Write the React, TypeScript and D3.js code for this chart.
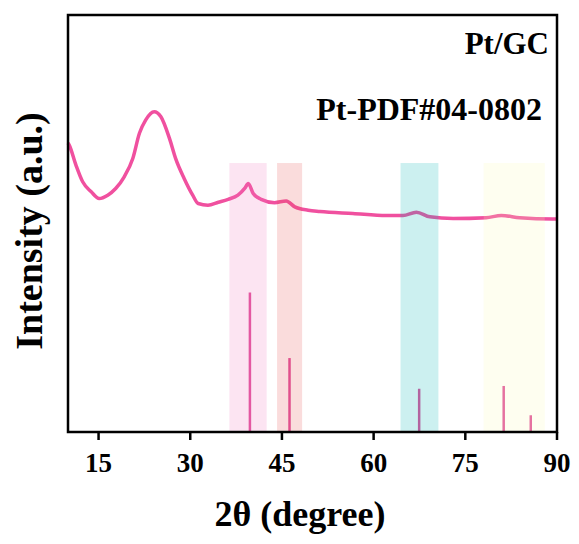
import React from "react";
import * as d3 from "d3";

const curveAngles = [10.0, 10.2, 11.3, 12.4, 13.8, 15.1, 16.5, 17.8, 19.2, 20.6, 21.7, 22.7, 24.1, 25.2, 26.6, 27.6, 29.0, 30.4, 31.3, 32.9, 34.6, 36.2, 37.8, 38.9, 39.5, 40.3, 41.6, 43.8, 45.7, 47.1, 49.3, 51.2, 56.6, 62.1, 64.8, 67.0, 69.2, 73.0, 78.4, 80.9, 83.9, 89.3, 90.0];
const curveIntensity = [693, 688, 640, 600, 576, 560, 568, 584, 612, 656, 717, 748, 768, 756, 704, 656, 608, 568, 548, 544, 551, 558, 568, 584, 596, 572, 558, 550, 554, 540, 532, 529, 524, 519, 519, 527, 516, 512, 514, 519, 514, 511, 511];

const pdfAngles = [39.76, 46.24, 67.45, 81.28, 85.71];
const pdfIntensity = [100, 53, 31, 33, 12];

const bandStart = [36.4, 44.2, 64.4, 78.0];
const bandEnd = [42.5, 48.3, 70.6, 88.0];
const bandColors = ["#f078be", "#e65050", "#00b4b4", "#fafab4"];
const bandTop = 645;

const xTicks = [15, 30, 45, 60, 75, 90];
const sampleLabel = "Pt/GC";
const pdfLabel = "Pt-PDF#04-0802";
const xTitle = "2θ (degree)";
const yTitle = "Intensity (a.u.)";

const W = 579, H = 544;
const L = 68, R = 557, T = 15, B = 432;
const font = "'Liberation Serif', 'Times New Roman', serif";

export default function App() {
  React.useEffect(() => {
    document.body.style.margin = "0";
  }, []);
  const x = d3.scaleLinear().domain([10, 90]).range([L, R]);
  const y = d3.scaleLinear().domain([0, 1000]).range([B, T]);
  const yRef = d3.scaleLinear().domain([0, 100]).range([B, 292.5]);
  const pts = curveAngles.map((a, i) => [a, curveIntensity[i]] as [number, number]);
  const line = d3.line<[number, number]>().x(d => x(d[0])).y(d => y(d[1])).curve(d3.curveMonotoneX);

  return (
    <svg width={W} height={H} style={{ display: "block", background: "#fff" }}>
      <path d={line(pts) || ""} fill="none" stroke="#f0509f" strokeWidth={3.5} strokeLinejoin="round" />
      {pdfAngles.map((a, i) => (
        <line key={i} x1={x(a)} x2={x(a)} y1={B} y2={yRef(pdfIntensity[i])} stroke="#e0509c" strokeWidth={2.5} />
      ))}
      {bandStart.map((s, i) => (
        <rect key={i} x={x(s)} y={y(bandTop)} width={x(bandEnd[i]) - x(s)} height={B - y(bandTop)} fill={bandColors[i]} fillOpacity={0.2} />
      ))}
      <rect x={L} y={T} width={R - L} height={B - T} fill="none" stroke="#000" strokeWidth={2.5} />
      {xTicks.map(t => (
        <g key={t}>
          <line x1={x(t)} x2={x(t)} y1={B} y2={B + 8} stroke="#000" strokeWidth={2.5} />
          <text x={x(t)} y={472} textAnchor="middle" fontFamily={font} fontWeight="bold" fontSize={27}>{t}</text>
        </g>
      ))}
      <text x={549} y={54} textAnchor="end" fontFamily={font} fontWeight="bold" fontSize={31}>{sampleLabel}</text>
      <text x={542} y={120} textAnchor="end" fontFamily={font} fontWeight="bold" fontSize={32}>{pdfLabel}</text>
      <text x={300} y={526} textAnchor="middle" fontFamily={font} fontWeight="bold" fontSize={36}>{xTitle}</text>
      <text transform={`translate(42,231) rotate(-90)`} textAnchor="middle" fontFamily={font} fontWeight="bold" fontSize={38}>{yTitle}</text>
    </svg>
  );
}
